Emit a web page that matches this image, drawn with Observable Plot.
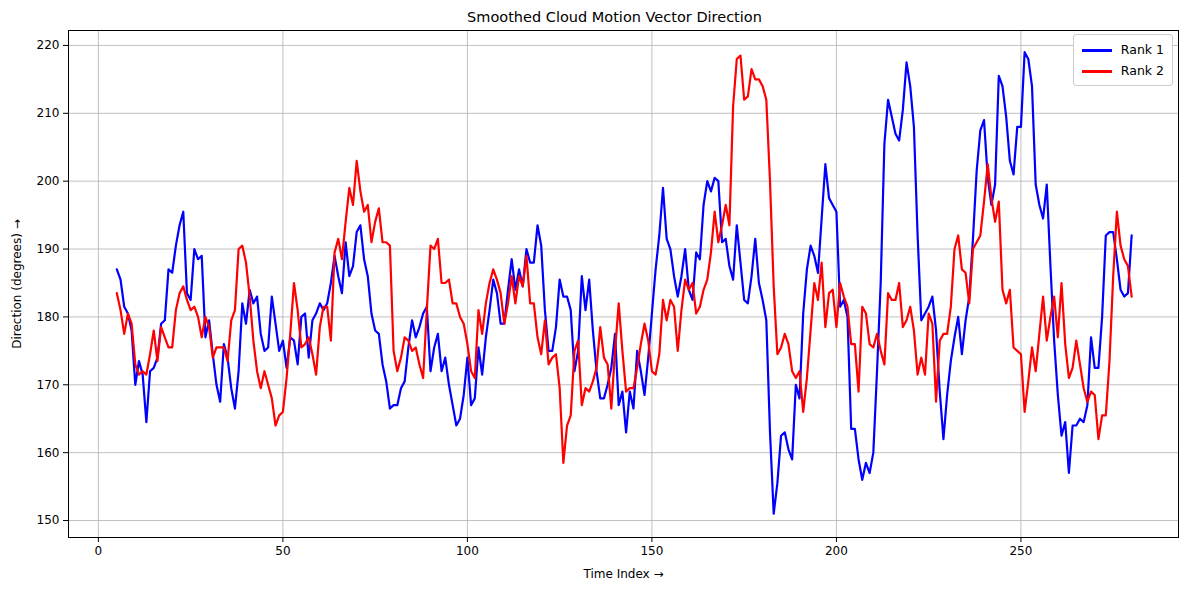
<!DOCTYPE html>
<html><head><meta charset="utf-8">
<script src="https://cdn.jsdelivr.net/npm/d3@7"></script>
<script src="https://cdn.jsdelivr.net/npm/@observablehq/plot@0.6"></script>
<style>
body{margin:0;background:#fff;font-family:"DejaVu Sans",sans-serif;}
#title{height:30px;line-height:34px;text-align:center;font-size:14.5px;padding-left:40px;}
#wrap{position:relative;}
#legend{position:absolute;right:16px;top:4px;border:1px solid #ccc;border-radius:3px;background:#fff;padding:4px 8px;font-size:12.5px;line-height:21px;}
#legend span.l{display:inline-block;width:30px;height:3px;vertical-align:middle;margin-right:9px;}
</style></head>
<body>
<div id="title">Smoothed Cloud Motion Vector Direction</div>
<div id="wrap"><div id="chart"></div>
<div id="legend"><div><span class="l" style="background:blue"></span>Rank 1</div><div><span class="l" style="background:red"></span>Rank 2</div></div></div>
<script>
const startIndex = 5;
const rank1 = [187,185.5,181.5,180.5,178,170,173.5,171.5,164.5,172,172.5,174,179,179.5,187,186.5,190.5,193.5,195.5,183.5,182.5,190,188.5,189,177,179.5,174.5,170,167.5,176,174,169.5,166.5,172,182,179,184,182,183,177.5,175,175.5,183,179,175,176.5,172.5,177,176.5,173,180,180.5,174,179.5,180.5,182,181,182,185,189,186,183.5,191,186,187.5,192.5,193.5,188.5,186,180.5,178,177.5,173,170.5,166.5,167,167,169.5,170.5,175.5,179.5,177,178.5,180.5,181.5,172,175.5,177.5,172,174,170,167,164,165,168.5,174,167,168,175.5,171.5,177,181,185.5,183.5,179,179,184,188.5,184,187,184.5,190,188,188,193.5,190.5,181,175,175,178.5,185.5,183,183,181,172,175,186,181,185.5,178,172,168,168,170,172.5,177.5,167,169,163,169,166.5,175,172,168.5,174,180.5,187,192,199,191.5,190,186,183,186,190,184,182.5,189.5,188.5,196.5,200,198.5,200.5,200,191,191.5,187.5,185.5,193.5,188,182.5,182,186,191.5,185,182.5,179.5,163,151,155.5,162.5,163,160.5,159,170,168,180.5,187,190.5,189,186.5,194.5,202.5,197.5,196.5,195.5,181.5,182.5,180,163.5,163.5,159,156,158.5,157,160,172,185,205.5,212,209.5,207,206,210.5,217.5,214,208,192,179.5,180.5,181.5,183,178,169,162,168.5,173.5,177,180,174.5,179.5,183,191.5,201.5,207.5,209,200.5,196.5,199.5,215.5,214,209.5,203,201,208,208,219,218,214,199.5,196.5,194.5,199.5,187.5,176.5,168.5,162.5,164.5,157,164,164,165,164.5,167,177,172.5,172.5,180,192,192.5,192.5,188.5,184,183,183.5,192];
const rank2 = [183.5,181,177.5,180.5,179,173,171.5,172,171.5,174.5,178,173.5,178.5,177,175.5,175.5,181,183.5,184.5,182.5,181,181.5,180,177,180,178.5,174,175.5,175.5,175.5,173.5,179.5,181,190,190.5,188,183,176.5,172,169.5,172,170,168,164,165.5,166,171,177.5,185,181,175.5,176,177,174.5,171.5,178.5,181.5,181.5,176.5,189.5,191.5,188.5,194,199,196.5,203,198.5,195.5,196.5,191,194,196,191,191,190.5,175,172,174,177,176.5,175,175.5,173,171,181,190.5,190,191.5,185,185,185.5,182,182,180,179,176,172,171,181,177.5,182,185,187,185.5,183.5,179,182,186,182,186,184.5,189,182,182,177,174.5,179.5,173,174,174.5,169.5,158.5,164,165.5,175,176.5,167,169.5,169,170.5,172.5,178.5,174,173,166.5,175,182,175,169,169.5,169.5,172.5,176,179,176.5,172,171.5,174.5,182.5,179.5,182.5,181.5,175,181,185.5,184,185,180.5,181.5,184,185.5,189.5,195.5,191,193.5,196.5,193.5,211,218,218.5,212,212.5,216.5,215,215,214,212,200,184.5,174.5,175.5,177.5,176,172,171,172,166,171,178,185,182.5,188,178.5,183.5,184,178.5,185,183,181.5,176,176,169,181.5,180.5,176,175.5,177.5,175,173,183.5,182.5,182.5,185,178.5,179.5,181.5,178,171.5,174,171.5,180.5,179,167.5,176.5,177.5,177.5,181.5,190,192,187,186.5,182,190,191,192,197,202.5,197.5,194,197,184,182,184,175.5,175,174.5,166,170.5,175.5,172,177.5,183,176.5,180,183,177,185,176,171,172.5,176.5,173,169.5,167.5,169,168.5,162,165.5,165.5,173.5,186,195.5,190.5,188.5,187.5,183];
const data = [];
rank1.forEach((v,i)=>data.push({t:startIndex+i,v,s:"Rank 1"}));
rank2.forEach((v,i)=>data.push({t:startIndex+i,v,s:"Rank 2"}));
const chart = Plot.plot({
  width:1189, height:560,
  marginLeft:68, marginRight:11, marginTop:0, marginBottom:53,
  style:{fontFamily:"DejaVu Sans, sans-serif", fontSize:"12px", color:"#000"},
  x:{domain:[-8.1,292.7], ticks:[0,50,100,150,200,250], label:"Time Index", labelAnchor:"center", labelOffset:40, tickSize:5},
  y:{domain:[147.5,222.2], ticks:[150,160,170,180,190,200,210,220], label:"Direction (degrees)", labelAnchor:"center", labelOffset:56, tickSize:5},
  color:{domain:["Rank 1","Rank 2"], range:["blue","red"]},
  marks:[
    Plot.gridX([0,50,100,150,200,250],{stroke:"#b0b0b0",strokeOpacity:1,strokeWidth:0.8}),
    Plot.gridY([150,160,170,180,190,200,210,220],{stroke:"#b0b0b0",strokeOpacity:1,strokeWidth:0.8}),
    Plot.line(data,{x:"t",y:"v",stroke:"s",z:"s",strokeWidth:2.2}),
    Plot.frame({stroke:"#000"})
  ]
});
document.getElementById("chart").appendChild(chart);
</script></body></html>
